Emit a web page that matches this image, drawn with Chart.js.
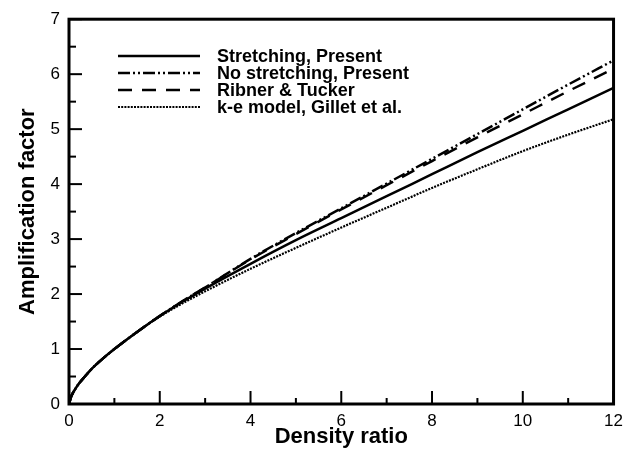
<!DOCTYPE html>
<html>
<head>
<meta charset="utf-8">
<script src="https://cdn.jsdelivr.net/npm/chart.js@4/dist/chart.umd.min.js"></script>
<style>
  html, body { margin: 0; padding: 0; background: #fff; }
  #chart { display: block; }
</style>
</head>
<body>
<canvas id="chart" width="630" height="450"></canvas>
<script>
// ── Data ─────────────────────────────────────────────────
const densityRatio = [0, 0.05, 0.1, 0.2, 0.35, 0.5, 0.75, 1, 1.5, 2, 2.5, 3, 4, 5, 6, 7, 8, 9, 10, 11, 12];
const stretching   = [0, 0.14, 0.22, 0.35, 0.50, 0.64, 0.83, 1.00, 1.31, 1.60, 1.86, 2.10, 2.55, 2.98, 3.38, 3.78, 4.18, 4.58, 4.97, 5.36, 5.75];
const noStretching = [0, 0.14, 0.22, 0.35, 0.50, 0.64, 0.83, 1.00, 1.31, 1.60, 1.87, 2.12, 2.64, 3.11, 3.56, 4.01, 4.46, 4.91, 5.36, 5.81, 6.25];
const ribnerTucker = [0, 0.14, 0.22, 0.35, 0.50, 0.64, 0.83, 1.00, 1.31, 1.60, 1.87, 2.12, 2.63, 3.09, 3.54, 3.98, 4.42, 4.85, 5.27, 5.69, 6.10];
const keModel      = [0, 0.14, 0.22, 0.35, 0.50, 0.64, 0.83, 1.00, 1.31, 1.59, 1.83, 2.05, 2.46, 2.84, 3.21, 3.57, 3.93, 4.27, 4.60, 4.90, 5.18];

const seriesLabels = ['Stretching, Present', 'No stretching, Present', 'Ribner & Tucker', 'k-e model, Gillet et al.'];
const xTicksMajor = [0, 2, 4, 6, 8, 10, 12];
const yTicksMajor = [0, 1, 2, 3, 4, 5, 6, 7];

const FONT = '"Liberation Sans", Arial, Helvetica, sans-serif';
const ink = '#000';

const pts = (ys) => densityRatio.map((x, i) => ({ x, y: ys[i] }));

// ── Frame, inward ticks, legend ──────────────────────────
const framePlugin = {
  id: 'frame',
  afterDraw(chart) {
    const { ctx, chartArea: a, scales: { x, y } } = chart;
    ctx.save();
    ctx.strokeStyle = ink;
    ctx.lineCap = 'butt';

    // inward ticks
    ctx.lineWidth = 2;
    for (let v = 0; v <= 12; v += 1) {
      const px = x.getPixelForValue(v);
      const len = v % 2 === 0 ? 13 : 6;
      ctx.beginPath();
      ctx.moveTo(px, a.bottom);
      ctx.lineTo(px, a.bottom - len);
      ctx.stroke();
    }
    for (let v = 0; v <= 7; v += 0.5) {
      const py = y.getPixelForValue(v);
      const len = Number.isInteger(v) ? 13 : 7;
      ctx.beginPath();
      ctx.moveTo(a.left, py);
      ctx.lineTo(a.left + len, py);
      ctx.stroke();
    }

    // box
    ctx.lineWidth = 3;
    ctx.strokeRect(a.left, a.top, a.right - a.left, a.bottom - a.top);

    // legend
    const x0 = 118, x1 = 200, tx = 217;
    const rows = [56, 73, 90, 107];
    ctx.font = 'bold 18px ' + FONT;
    ctx.textBaseline = 'middle';
    ctx.fillStyle = ink;
    chart.data.datasets.forEach((ds, i) => {
      ctx.save();
      ctx.lineWidth = ds.borderWidth;
      ctx.setLineDash(ds.borderDash || []);
      ctx.beginPath();
      ctx.moveTo(x0, rows[i]);
      ctx.lineTo(x1, rows[i]);
      ctx.stroke();
      ctx.restore();
      ctx.fillText(ds.label, tx, rows[i] + 1);
    });
    ctx.restore();
  }
};

new Chart(document.getElementById('chart'), {
  type: 'line',
  data: {
    datasets: [
      { label: seriesLabels[0], data: pts(stretching),   borderColor: ink, borderWidth: 2.5, borderDash: [] },
      { label: seriesLabels[1], data: pts(noStretching), borderColor: ink, borderWidth: 2.5, borderDash: [12, 3, 2, 3, 2, 3] },
      { label: seriesLabels[2], data: pts(ribnerTucker), borderColor: ink, borderWidth: 2.5, borderDash: [14, 10] },
      { label: seriesLabels[3], data: pts(keModel),      borderColor: ink, borderWidth: 2.2, borderDash: [2, 1.2] },
    ],
  },
  options: {
    responsive: false,
    animation: false,
    elements: {
      point: { radius: 0 },
      line: { cubicInterpolationMode: 'monotone', fill: false },
    },
    layout: { padding: { top: 16, right: 11, left: 0, bottom: 0 } },
    plugins: {
      legend: { display: false },
      tooltip: { enabled: false },
    },
    scales: {
      x: {
        type: 'linear',
        min: 0,
        max: 12,
        afterBuildTicks: (s) => { s.ticks = xTicksMajor.map((v) => ({ value: v })); },
        afterFit: (s) => { s.height = 46; },
        grid: { display: false, drawTicks: false },
        border: { display: false },
        ticks: { color: ink, padding: 7, font: { family: FONT, size: 17 }, maxRotation: 0 },
        title: {
          display: true,
          text: 'Density ratio',
          color: ink,
          font: { family: FONT, size: 22, weight: 'bold' },
          padding: { top: 0, bottom: 0 },
        },
      },
      y: {
        type: 'linear',
        min: 0,
        max: 7,
        afterBuildTicks: (s) => { s.ticks = yTicksMajor.map((v) => ({ value: v })); },
        afterFit: (s) => { s.width = 69; },
        grid: { display: false, drawTicks: false },
        border: { display: false },
        ticks: { color: ink, padding: 9, font: { family: FONT, size: 17 } },
        title: {
          display: true,
          text: 'Amplification factor',
          color: ink,
          font: { family: FONT, size: 22, weight: 'bold' },
          padding: { top: 15, bottom: 0 },
        },
      },
    },
  },
  plugins: [framePlugin],
});
</script>
</body>
</html>
